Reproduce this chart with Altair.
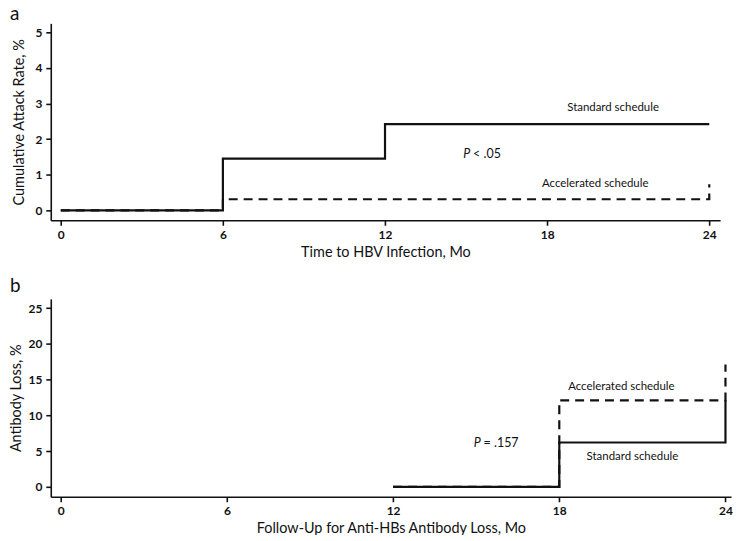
import altair as alt
import pandas as pd

# ---- data ----
x_ticks = [0, 6, 12, 18, 24]

# Panel a: cumulative attack rate (%)
a_std_month = [0, 6, 12, 24]
a_std_rate = [0, 1.45, 2.42, 2.42]
a_acc_month = [0, 6, 24, 24]
a_acc_rate = [0, 0.31, 0.31, 0.73]
a_y_ticks = [0, 1, 2, 3, 4, 5]

# Panel b: antibody loss (%)
b_std_month = [12, 18, 24, 24]
b_std_loss = [0, 6.2, 6.2, 12.1]
b_acc_month = [12, 18, 24, 24]
b_acc_loss = [0, 12.1, 12.1, 17.1]
b_y_ticks = [0, 5, 10, 15, 20, 25]

# annotations
a_labels = ["Standard schedule", "Accelerated schedule"]
a_label_x = [20.44, 19.78]
a_label_y = [2.88, 0.75]
a_p_x, a_p_y, a_p_rest = 15.15, 1.59, "< .05"

b_labels = ["Accelerated schedule", "Standard schedule"]
b_label_x = [20.24, 20.64]
b_label_y = [13.9, 4.14]
b_p_x, b_p_y, b_p_rest = 15.16, 6.09, "= .157"

FONT = "Lato"
INK = "#111111"


def line_df(xs, ys):
    return pd.DataFrame({"month": xs, "val": ys, "i": list(range(len(xs)))})


def panel(std_x, std_y, acc_x, acc_y, y_ticks, xdom, ydom, width, height,
          xtitle, ytitle, labels, lx, ly, px, py, prest, letter, letter_y, ytp):
    xs = alt.Scale(domain=xdom, nice=False, zero=False)
    ys = alt.Scale(domain=ydom, nice=False, zero=False)
    xaxis = alt.Axis(values=x_ticks, title=xtitle, titlePadding=5, labelOverlap=False)
    yaxis = alt.Axis(values=y_ticks, title=ytitle, titlePadding=ytp, labelOverlap=False)

    def enc(xf, yf):
        return dict(x=alt.X(xf, scale=xs, axis=xaxis), y=alt.Y(yf, scale=ys, axis=yaxis))

    acc = alt.Chart(line_df(acc_x, acc_y)).mark_line(
        interpolate="step-after", color=INK, strokeWidth=2.2, strokeDash=[9, 6], clip=False
    ).encode(order="i:Q", **enc("month:Q", "val:Q"))
    std = alt.Chart(line_df(std_x, std_y)).mark_line(
        interpolate="step-after", color=INK, strokeWidth=2.2, clip=False
    ).encode(order="i:Q", **enc("month:Q", "val:Q"))
    lab = alt.Chart(pd.DataFrame({"month": lx, "val": ly, "t": labels})).mark_text(
        font=FONT, fontSize=11.5, color=INK, align="center", baseline="middle"
    ).encode(text="t:N", **enc("month:Q", "val:Q"))
    pdf = pd.DataFrame({"month": [px], "val": [py], "p": ["P"], "r": [prest]})
    p1 = alt.Chart(pdf).mark_text(
        font=FONT, fontSize=12.5, fontStyle="italic", color=INK, align="right",
        baseline="middle"
    ).encode(text="p:N", **enc("month:Q", "val:Q"))
    p2 = alt.Chart(pdf).mark_text(
        font=FONT, fontSize=12.5, color=INK, align="left", baseline="middle", dx=3
    ).encode(text="r:N", **enc("month:Q", "val:Q"))
    let = alt.Chart(pd.DataFrame({"t": [letter]})).mark_text(
        font=FONT, fontSize=19, color=INK, align="left", baseline="alphabetic"
    ).encode(x=alt.value(-41), y=alt.value(letter_y), text="t:N")
    return alt.layer(acc, std, lab, p1, p2, let).properties(width=width, height=height)


pa = panel(a_std_month, a_std_rate, a_acc_month, a_acc_rate, a_y_ticks,
           [-0.37, 24.4], [-0.28, 5.25], 673, 198,
           "Time to HBV Infection, Mo", "Cumulative Attack Rate, %",
           a_labels, a_label_x, a_label_y, a_p_x, a_p_y, a_p_rest, "a", -3, 8)

pb = panel(b_std_month, b_std_loss, b_acc_month, b_acc_loss, b_y_ticks,
           [-0.36, 24.2], [-1.39, 26.3], 684, 199,
           "Follow-Up for Anti-HBs Antibody Loss, Mo", "Antibody Loss, %",
           b_labels, b_label_x, b_label_y, b_p_x, b_p_y, b_p_rest, "b", -7, 5)

chart = alt.vconcat(pa, pb, spacing=18).properties(
    padding={"top": -4, "left": 0, "right": 0, "bottom": -2},
    background="white",
).configure_view(stroke=None).configure_axis(
    grid=False, domainColor=INK, domainWidth=1.6, tickColor=INK,
    tickWidth=1.6, tickSize=5, labelFont=FONT, labelFontSize=12,
    labelFontWeight="bold", labelColor=INK, labelPadding=4,
    labelOverlap=False, titleFont=FONT, titleFontSize=14.5,
    titleFontWeight="normal", titleColor=INK
)

chart.save("out.html", embed_options={"renderer": "svg", "actions": False})
